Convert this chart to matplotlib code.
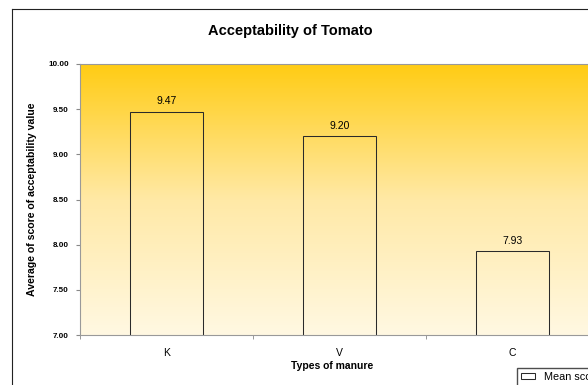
import matplotlib

matplotlib.use("Agg")
import matplotlib.pyplot as plt  # noqa: E402
import numpy as np  # noqa: E402
from matplotlib.colors import LinearSegmentedColormap  # noqa: E402
from matplotlib.lines import Line2D  # noqa: E402

manures = ["K", "V", "C"]
mean_scores = [9.47, 9.20, 7.93]
y_ticks = [7.00, 7.50, 8.00, 8.50, 9.00, 9.50, 10.00]

W, H = 588, 385
fig = plt.figure(figsize=(W / 100, H / 100), dpi=100)
plt.rcParams["font.family"] = ["Liberation Sans", "DejaVu Sans"]

# plot area runs past the right edge of the figure
ax = fig.add_axes([80 / W, 50 / H, 519 / W, 271 / H])
ax.set_xlim(-0.5, 2.5)
ax.set_ylim(7.0, 10.0)

# yellow fill fading towards the bottom of the plot area
grad = LinearSegmentedColormap.from_list("fill", ["#fff8e2", "#ffe9a6", "#ffcc14"])
ax.imshow(np.linspace(0, 1, 256).reshape(-1, 1), cmap=grad, aspect="auto",
          extent=(-0.5, 2.5, 7.0, 10.0), origin="lower", zorder=0)

x = np.arange(len(manures))
bars = ax.bar(x, mean_scores, width=0.42, bottom=0, fill=False,
              edgecolor="#2a2a2a", linewidth=0.75, zorder=2, label="Mean score")
for xi, v in zip(x, mean_scores):
    ax.text(xi, v + 0.06, f"{v:.2f}", ha="center", va="bottom", fontsize=7.5, zorder=3)

ax.set_yticks(y_ticks)
ax.set_yticklabels([f"{t:.2f}" for t in y_ticks], fontsize=5.8, fontweight="bold")
ax.set_xticks(x)
ax.set_xticklabels(manures, fontsize=7.5)
ax.set_xticks([-0.5, 0.5, 1.5, 2.5], minor=True)
ax.tick_params(axis="x", which="major", length=0, pad=9)
ax.tick_params(axis="x", which="minor", length=3, color="#888888", direction="out")
ax.tick_params(axis="y", length=3, color="#888888", direction="out", pad=5)

for side in ("left", "bottom", "top"):
    ax.spines[side].set_color("#999999")
    ax.spines[side].set_linewidth(0.8)
ax.spines["right"].set_visible(False)

ax.set_xlabel("Types of manure", fontsize=7.5, fontweight="bold", labelpad=3)
ax.xaxis.set_label_coords(0.485, -0.095)
ax.set_ylabel("Average of score of acceptability value", fontsize=7.6,
              fontweight="bold", labelpad=8)
fig.text(290 / W, 1 - 31 / H, "Acceptability of Tomato", ha="center", va="center",
         fontsize=10.5, fontweight="bold")

# chart area border (left and top edges)
fig.add_artist(Line2D([12 / W, 12 / W], [0, 1 - 9 / H], color="#222222", lw=0.8))
fig.add_artist(Line2D([12 / W, 1], [1 - 9 / H, 1 - 9 / H], color="#222222", lw=0.8))

# legend box sits at the lower right corner and runs off the edge
fig.legend(handles=[bars], loc="upper left", bbox_to_anchor=(517 / W, 1 - 368 / H),
           fontsize=7.8, frameon=True, fancybox=False, edgecolor="#222222",
           borderpad=0.35, handlelength=1.3, handleheight=0.6, handletextpad=0.8,
           borderaxespad=0)

fig.savefig("out.png", dpi=100)
